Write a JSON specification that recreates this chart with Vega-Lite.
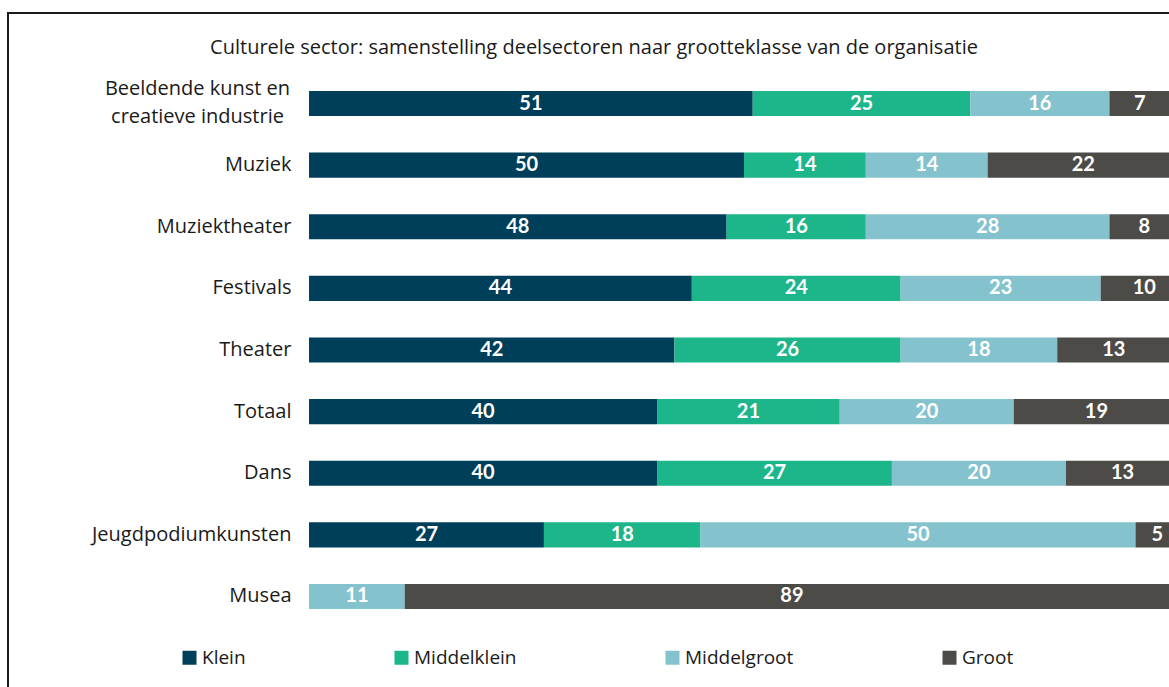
{
  "$schema": "https://vega.github.io/schema/vega-lite/v6.json",
  "width": 1200,
  "height": 720,
  "autosize": {"type": "none"},
  "padding": {"left": 8, "top": 13, "right": 0, "bottom": 0},
  "background": "white",
  "config": {
    "view": {"stroke": "#1a1a1a", "strokeWidth": 2},
    "font": "Open Sans"
  },
  "title": {
    "text": "Culturele sector: samenstelling deelsectoren naar grootteklasse van de organisatie",
    "anchor": "middle",
    "frame": "group",
    "orient": "top",
    "offset": -45,
    "dx": -14,
    "fontSize": 20,
    "fontWeight": "normal",
    "color": "#1a1a1a",
    "font": "Open Sans"
  },
  "data": {
    "values": [
      {"sector": "Beeldende kunst en creatieve industrie", "klasse": "Klein", "pct": 51},
      {"sector": "Beeldende kunst en creatieve industrie", "klasse": "Middelklein", "pct": 25},
      {"sector": "Beeldende kunst en creatieve industrie", "klasse": "Middelgroot", "pct": 16},
      {"sector": "Beeldende kunst en creatieve industrie", "klasse": "Groot", "pct": 7},
      {"sector": "Muziek", "klasse": "Klein", "pct": 50},
      {"sector": "Muziek", "klasse": "Middelklein", "pct": 14},
      {"sector": "Muziek", "klasse": "Middelgroot", "pct": 14},
      {"sector": "Muziek", "klasse": "Groot", "pct": 22},
      {"sector": "Muziektheater", "klasse": "Klein", "pct": 48},
      {"sector": "Muziektheater", "klasse": "Middelklein", "pct": 16},
      {"sector": "Muziektheater", "klasse": "Middelgroot", "pct": 28},
      {"sector": "Muziektheater", "klasse": "Groot", "pct": 8},
      {"sector": "Festivals", "klasse": "Klein", "pct": 44},
      {"sector": "Festivals", "klasse": "Middelklein", "pct": 24},
      {"sector": "Festivals", "klasse": "Middelgroot", "pct": 23},
      {"sector": "Festivals", "klasse": "Groot", "pct": 10},
      {"sector": "Theater", "klasse": "Klein", "pct": 42},
      {"sector": "Theater", "klasse": "Middelklein", "pct": 26},
      {"sector": "Theater", "klasse": "Middelgroot", "pct": 18},
      {"sector": "Theater", "klasse": "Groot", "pct": 13},
      {"sector": "Totaal", "klasse": "Klein", "pct": 40},
      {"sector": "Totaal", "klasse": "Middelklein", "pct": 21},
      {"sector": "Totaal", "klasse": "Middelgroot", "pct": 20},
      {"sector": "Totaal", "klasse": "Groot", "pct": 19},
      {"sector": "Dans", "klasse": "Klein", "pct": 40},
      {"sector": "Dans", "klasse": "Middelklein", "pct": 27},
      {"sector": "Dans", "klasse": "Middelgroot", "pct": 20},
      {"sector": "Dans", "klasse": "Groot", "pct": 13},
      {"sector": "Jeugdpodiumkunsten", "klasse": "Klein", "pct": 27},
      {"sector": "Jeugdpodiumkunsten", "klasse": "Middelklein", "pct": 18},
      {"sector": "Jeugdpodiumkunsten", "klasse": "Middelgroot", "pct": 50},
      {"sector": "Jeugdpodiumkunsten", "klasse": "Groot", "pct": 5},
      {"sector": "Musea", "klasse": "Middelgroot", "pct": 11},
      {"sector": "Musea", "klasse": "Groot", "pct": 89}
    ]
  },
  "transform": [
    {"calculate": "indexof(['Klein','Middelklein','Middelgroot','Groot'], datum.klasse)", "as": "ord"},
    {"stack": "pct", "groupby": ["sector"], "sort": [{"field": "ord", "order": "ascending"}], "as": ["x0", "x1"]},
    {"calculate": "(datum.x0 + datum.x1) / 2", "as": "xm"}
  ],
  "encoding": {
    "y": {
      "field": "sector",
      "type": "nominal",
      "sort": ["Beeldende kunst en creatieve industrie", "Muziek", "Muziektheater", "Festivals", "Theater", "Totaal", "Dans", "Jeugdpodiumkunsten", "Musea"],
      "scale": {"paddingInner": 0.594, "paddingOuter": 0, "range": [78, 596]},
      "axis": {
        "title": null,
        "orient": "left",
        "offset": -283,
        "ticks": false,
        "domain": false,
        "labelPadding": {"condition": {"test": "datum.value == 'Beeldende kunst en creatieve industrie'", "value": 94}, "value": 0},
        "labelAlign": {"condition": {"test": "datum.value == 'Beeldende kunst en creatieve industrie'", "value": "center"}, "value": "right"},
        "labelOffset": {"condition": {"test": "datum.value == 'Beeldende kunst en creatieve industrie'", "value": -15}, "value": 0},
        "labelFontSize": 20,
        "labelFont": "Open Sans",
        "labelColor": "#1a1a1a",
        "labelLineHeight": 28,
        "labelLimit": 400,
        "labelExpr": "datum.value == 'Beeldende kunst en creatieve industrie' ? ['Beeldende kunst en', 'creatieve industrie'] : datum.value"
      }
    }
  },
  "layer": [
    {
      "mark": {"type": "bar"},
      "encoding": {
        "x": {
          "field": "x0",
          "type": "quantitative",
          "scale": {"domain": [-34.6, 103.33], "nice": false, "zero": false},
          "axis": null
        },
        "x2": {"field": "x1"},
        "color": {
          "field": "klasse",
          "type": "nominal",
          "scale": {
            "domain": ["Klein", "Middelklein", "Middelgroot", "Groot"],
            "range": ["#003f5a", "#1cb68a", "#84c3cd", "#4d4b47"]
          },
          "legend": {
            "title": null,
            "orient": "none",
            "legendX": 172,
            "legendY": 635,
            "direction": "horizontal",
            "symbolType": "square",
            "symbolSize": 196,
            "symbolStrokeWidth": 0,
            "symbolOpacity": 1,
            "labelFontSize": 19,
            "labelFont": "Open Sans",
            "labelColor": "#1a1a1a",
            "labelOffset": 3,
            "columnPadding": 146
          }
        }
      }
    },
    {
      "mark": {"type": "text", "color": "white", "fontWeight": "bold", "fontSize": 20, "font": "Lato", "baseline": "middle"},
      "encoding": {
        "x": {"field": "xm", "type": "quantitative"},
        "text": {"field": "pct", "type": "quantitative"}
      }
    }
  ]
}
